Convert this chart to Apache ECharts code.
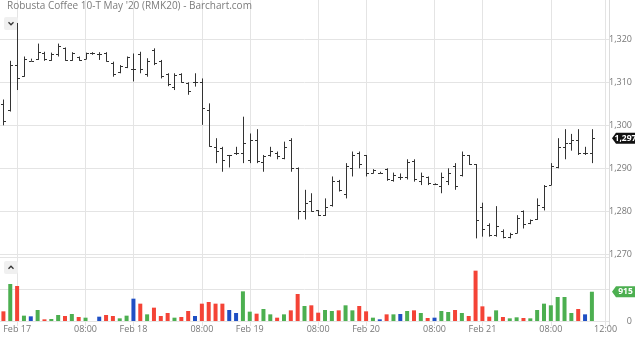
<!DOCTYPE html>
<html><head><meta charset="utf-8">
<script src="https://cdn.jsdelivr.net/npm/echarts@6/dist/echarts.min.js"></script>
<style>html,body{margin:0;padding:0;background:#fff}#c{width:640px;height:337px}</style>
</head><body><div id="c"></div><script>
const days = ['Feb 17','Feb 18','Feb 19','Feb 20','Feb 21'];
const sessionTimes = ['03:00','03:30','04:00','04:30','05:00','05:30','06:00','06:30','07:00','07:30','08:00','08:30','09:00','09:30','10:00','10:30','11:00'];
const leadCats = ['Feb 14 10:30','Feb 14 11:00'];
const tailCats = ['Feb 21 11:30','Feb 21 12:00'];

const opens = [1305,1303.5,1314,1311.5,1315,1315.5,1316.8,1315.2,1316.5,1318,1315.2,1315.8,1315.5,1316.9,1316.5,1316.8,1314.6,1312.3,1313.5,
 1313,1316.5,1312,1317.5,1315,1312,1309,1312,1309.8,1310,1310,1303.5,1295,1294.8,1293,1293.5,1293.5,
 1292,1296.5,1291.5,1293,1293.5,1292.5,1296.5,1290,1280,1282.5,1280.2,1279.2,1281.5,1287,1284,1290,1293.5,
 1293,1288.9,1289,1289.8,1287.2,1288,1288,1291.8,1287,1288,1286.3,1286,1287,1290.5,1288.5,1293,1291,
 1281,1276.8,1274.5,1275.5,1274,1275,1280,1277.2,1278.2,1281,1286.2,1290.2,1295,1296,1296.5,1293.5,1293.5];
const highs = [1306,1315,1323.8,1316,1315.5,1319,1317.1,1316.9,1319,1318.1,1317,1316,1316.9,1317,1317,1317,1314.8,1314,1316,
 1316.7,1317.1,1315.6,1317.9,1315.2,1312.1,1312.1,1312.1,1310,1312.1,1310.9,1305.1,1297,1295,1293.1,1295,1302,
 1298.1,1299.1,1293.1,1295,1293.9,1296.2,1297,1290.2,1285,1284.2,1280.3,1283,1288.1,1287.3,1291.2,1293.9,1293.9,
 1293.1,1289.8,1289.2,1290,1289,1288.8,1292.1,1292.1,1289,1288.1,1286.5,1289,1290,1291.2,1293.9,1293.1,1291,
 1282,1277.2,1281.2,1275.8,1275,1279.1,1280.2,1278.1,1283,1286.1,1291.2,1297,1299.1,1298,1299.1,1295,1299.1];
const lows = [1300,1303.2,1308.2,1311.3,1315,1315.2,1315,1315,1316,1315,1315,1315,1315.4,1316.4,1315.2,1314.8,1311.3,1312.1,1313.3,
 1310.2,1312.1,1311.3,1314,1310.9,1309.1,1308.2,1309.9,1307.1,1309,1300.1,1295,1291.2,1289.2,1290.2,1293.1,1291.2,
 1291.2,1291.2,1289.2,1292.7,1292.1,1292.1,1289.2,1278.1,1278.1,1279.9,1278.9,1278.9,1281.1,1284.6,1283,1288.1,1290,
 1288.1,1288.8,1288.8,1287.1,1286.9,1287.3,1287.4,1286.9,1286.1,1286.1,1286.1,1284.2,1286.1,1285,1288.1,1290.8,1273.7,
 1274.1,1274.1,1274.1,1273.7,1273.7,1274.9,1276,1277,1278,1280.2,1286.1,1290,1292.1,1294.1,1293.1,1293.1,1291.2];
const closes = [1301,1314,1311,1315.5,1315,1317,1315.5,1316.5,1318.5,1315.2,1316.8,1315.1,1316.7,1316.9,1316.5,1315,1312,1313.8,1315.8,
 1313,1313,1315,1314.5,1311.5,1309.5,1311.8,1310,1308,1310,1304,1295.2,1294,1292,1293,1293.5,1296,
 1296.5,1291.8,1292.8,1294,1292.8,1295,1290,1280,1282,1280,1279.2,1281,1287,1285,1290.5,1293,1291,
 1289,1289.5,1289,1287.5,1288.5,1288,1291.5,1287.5,1288.2,1286.5,1286.3,1288,1289,1286,1293,1291,1278,
 1276,1274.5,1276.5,1274,1274.8,1278.5,1277,1278,1281.5,1286,1290.5,1295,1296,1296.5,1293.5,1293.5,1297];
const volumes = [302,1156,1094,167,146,344,52,63,188,156,219,125,104,0,135,188,156,83,167,
 698,542,208,417,156,250,104,125,313,156,542,594,542,542,344,250,927,
 292,229,375,208,104,208,333,844,469,490,260,344,313,333,490,333,469,
 302,104,52,208,208,219,313,333,250,94,104,313,281,344,250,156,1573,
 458,135,333,125,83,115,94,83,344,542,490,750,750,250,375,208,915];
const volDir = ['d','u','d','u','n','u','d','u','u','d','u','d','u','n','n','d','d','u','u',
 'n','d','u','d','d','d','u','d','d','n','d','d','d','d','n','n','u',
 'u','d','u','u','d','u','d','d','u','d','d','u','u','d','u','u','d',
 'd','u','n','d','u','n','u','d','u','d','n','u','u','d','u','d','d',
 'd','d','u','d','u','u','d','u','u','u','u','u','u','u','d','n','u'];
const priceTicks = [1270, 1320, 10];
const lastPrice = 1297;
const lastVolume = 915;

const categories = leadCats.concat(days.flatMap(d => sessionTimes.map(t => d + ' ' + t)), tailCats);
const dirColor = {u:'#4caf50', d:'#f44336', n:'#1f4fc4'};
const ohlc = opens.map((o,i) => [i, o, highs[i], lows[i], closes[i]]);
const volData = volumes.map((v,i) => ({value: v, itemStyle: {color: dirColor[volDir[i]]}}));

function isMarked(idx, val) {
  const p = val.split(' ');
  if (p[0] + ' ' + p[1] === 'Feb 14') return false;
  return p[2] === '03:00' || p[2] === '08:00' || val === 'Feb 21 12:00';
}
function markLabel(val) {
  const p = val.split(' ');
  return p[2] === '03:00' ? p[0] + ' ' + p[1] : p[2];
}
const fmt = v => String(v).replace(/\B(?=(\d{3})+(?!\d))/g, ',');
const FONT = 'Open Sans';
const gridColor = '#e4e4e4';

const chart = echarts.init(document.getElementById('c'));
chart.setOption({
  animation: false,
  title: {text: "Robusta Coffee 10-T May '20 (RMK20) - Barchart.com", left: 7, top: 1, padding: 0,
    textStyle: {fontSize: 10, fontWeight: 'normal', color: '#7b7b7b', fontFamily: FONT}},
  grid: [
    {left: 0, right: 31, top: 0, bottom: 11},
    {left: 0, right: 31, top: 39.3, bottom: 82.7},
    {left: 0, right: 31, top: 257, bottom: 16}
  ],
  xAxis: [
    {gridIndex: 0, type: 'category', data: categories, boundaryGap: true,
      axisLine: {show: false}, axisTick: {show: false}, axisLabel: {show: false},
      splitLine: {show: true, interval: isMarked, alignWithLabel: true, lineStyle: {color: gridColor, width: 1}}},
    {gridIndex: 1, type: 'category', data: categories, boundaryGap: true,
      axisLine: {show: false}, axisTick: {show: false}, axisLabel: {show: false}, splitLine: {show: false}},
    {gridIndex: 2, type: 'category', data: categories, boundaryGap: true,
      axisLine: {show: false}, axisTick: {show: false}, splitLine: {show: false},
      axisLabel: {show: true, interval: isMarked, formatter: markLabel, margin: 4,
        fontSize: 9, color: '#777', fontFamily: FONT}}
  ],
  yAxis: [
    {gridIndex: 0, type: 'value', min: 0, max: 1, position: 'right',
      axisLine: {show: true, lineStyle: {color: '#dcdcdc'}}, axisTick: {show: false},
      axisLabel: {show: false}, splitLine: {show: false}},
    {gridIndex: 1, type: 'value', min: priceTicks[0], max: priceTicks[1], interval: priceTicks[2], position: 'right',
      axisLine: {show: false}, axisTick: {show: false},
      axisLabel: {align: 'right', margin: 23, fontSize: 9, color: '#777', fontFamily: FONT, formatter: fmt},
      splitLine: {show: true, lineStyle: {color: gridColor}}},
    {gridIndex: 2, type: 'value', min: 0, max: 2000, interval: 1000, position: 'right',
      axisLine: {show: false}, axisTick: {show: false},
      axisLabel: {align: 'right', margin: 23, fontSize: 9, color: '#777', fontFamily: FONT,
        formatter: v => v === 0 ? '0' : ''},
      splitLine: {show: true, lineStyle: {color: gridColor}}}
  ],
  series: [
    {type: 'custom', xAxisIndex: 1, yAxisIndex: 1, data: ohlc, clip: false,
      encode: {x: 0, y: [1,2,3,4]},
      renderItem: function (params, api) {
        const x = api.value(0);
        const o = api.coord([x, api.value(1)]);
        const h = api.coord([x, api.value(2)]);
        const l = api.coord([x, api.value(3)]);
        const c = api.coord([x, api.value(4)]);
        const px = Math.round(h[0]) + 0.5;
        const st = {stroke: '#333', lineWidth: 1};
        return {type: 'group', children: [
          {type: 'line', shape: {x1: px, y1: h[1], x2: px, y2: l[1]}, style: st},
          {type: 'line', shape: {x1: px - 2.5, y1: Math.round(o[1]) + 0.5, x2: px, y2: Math.round(o[1]) + 0.5}, style: st},
          {type: 'line', shape: {x1: px, y1: Math.round(c[1]) + 0.5, x2: px + 2.5, y2: Math.round(c[1]) + 0.5}, style: st}
        ]};
      }},
    {type: 'bar', xAxisIndex: 2, yAxisIndex: 2, data: volData, barWidth: 4}
  ]
});

const yP = chart.convertToPixel({yAxisIndex: 1}, lastPrice);
const yV = chart.convertToPixel({yAxisIndex: 2}, lastVolume);
function badge(y, color, text) {
  return {type: 'group', children: [
    {type: 'polygon', shape: {points: [[612, y], [616, y - 5.5], [635, y - 5.5], [635, y + 5.5], [616, y + 5.5]]},
      style: {fill: color}},
    {type: 'text', x: 625.5, y: y, style: {text: text, fill: '#fff', fontSize: 8.5, fontWeight: 'bold',
      fontFamily: FONT, align: 'center', verticalAlign: 'middle'}}
  ]};
}
function button(x, y, up) {
  const cx = x + 7, cy = y + 6.5;
  const pts = up ? [[cx - 2.5, cy + 1.2], [cx, cy - 1.3], [cx + 2.5, cy + 1.2]]
                 : [[cx - 2.5, cy - 1.2], [cx, cy + 1.3], [cx + 2.5, cy - 1.2]];
  return {type: 'group', children: [
    {type: 'rect', shape: {x: x, y: y, width: 14, height: 13, r: 2}, style: {fill: '#f0f0f0'}},
    {type: 'polyline', shape: {points: pts}, style: {stroke: '#333', lineWidth: 1.3, fill: null}}
  ]};
}
chart.setOption({graphic: [
  badge(yP, '#111', fmt(lastPrice)),
  badge(yV, '#4caf50', fmt(lastVolume)),
  button(4, 17, false),
  button(4, 261, true)
]});
</script></body></html>
